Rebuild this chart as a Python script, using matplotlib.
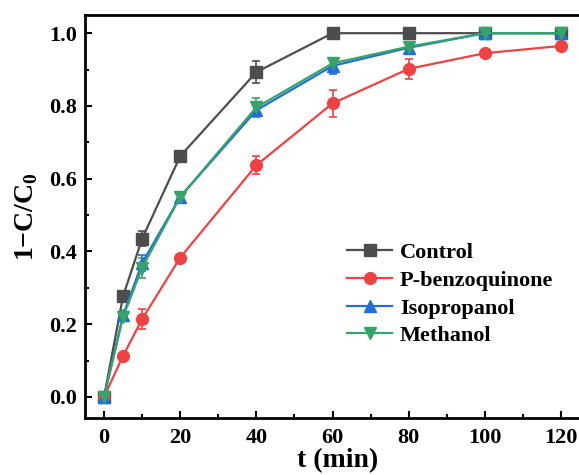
import matplotlib
matplotlib.use("Agg")
import matplotlib.pyplot as plt
from matplotlib.ticker import MultipleLocator

plt.rcParams['font.family'] = ['Liberation Serif', 'DejaVu Serif']
plt.rcParams['font.weight'] = 'bold'
plt.rcParams['mathtext.fontset'] = 'custom'
plt.rcParams['mathtext.rm'] = 'Liberation Serif:bold'
plt.rcParams['mathtext.bf'] = 'Liberation Serif:bold'

t = [0, 5, 10, 20, 40, 60, 80, 100, 120]

control = [0, 0.277, 0.435, 0.662, 0.893, 1.0, 1.0, 1.0, 1.0]
control_err = [0, 0.012, 0.02, 0.015, 0.03, 0, 0, 0, 0]

pbq = [0, 0.113, 0.214, 0.383, 0.637, 0.807, 0.902, 0.945, 0.965]
pbq_err = [0, 0.005, 0.027, 0.008, 0.025, 0.037, 0.027, 0.01, 0.006]

iso = [0, 0.225, 0.368, 0.55, 0.788, 0.91, 0.96, 1.0, 1.0]
iso_err = [0, 0.01, 0.022, 0.012, 0.015, 0.022, 0.01, 0.008, 0.008]

meth = [0, 0.22, 0.355, 0.55, 0.796, 0.917, 0.963, 1.0, 1.0]
meth_err = [0, 0.01, 0.028, 0.01, 0.027, 0.015, 0.01, 0.005, 0.005]

series = [
    ("Control", control, control_err, '#4d4d4d', 's'),
    ("P-benzoquinone", pbq, pbq_err, '#f04242', 'o'),
    ("Isopropanol", iso, iso_err, '#1f6fe0', '^'),
    ("Methanol", meth, meth_err, '#36a468', 'v'),
]

fig = plt.figure(figsize=(5.79, 4.75), dpi=100)
# right spine falls outside the picture, as in the original crop
ax = fig.add_axes([85 / 579, 1 - 418 / 475, 505 / 579, 403 / 475])

handles = []
for name, y, err, col, mk in series:
    eb = ax.errorbar(t, y, yerr=err, color=col, marker=mk, markersize=8.5,
                     linewidth=1.6, capsize=3, elinewidth=1.2, capthick=1.2,
                     label=name)
    handles.append(eb[0])  # line only, no error bar in legend

ax.set_xlim(-5, 127.6)
ax.set_ylim(-0.058, 1.05)
ax.xaxis.set_major_locator(MultipleLocator(20))
ax.xaxis.set_minor_locator(MultipleLocator(10))
ax.yaxis.set_major_locator(MultipleLocator(0.2))
ax.yaxis.set_minor_locator(MultipleLocator(0.1))
ax.yaxis.set_major_formatter(plt.FuncFormatter(lambda v, p: f"{v:.1f}"))

ax.tick_params(which='both', direction='in', width=1.5, labelsize=16)
ax.tick_params(which='major', length=5)
ax.tick_params(which='minor', length=3)
ax.tick_params(axis='x', which='major', pad=7)
ax.tick_params(axis='y', which='major', pad=6)
for s in ax.spines.values():
    s.set_linewidth(2)
ax.spines['right'].set_visible(False)

ax.set_xlabel("t (min)", fontsize=20, fontweight='bold', labelpad=0)
ax.set_ylabel(r"1$-$C/C$_\mathrm{0}$", fontsize=20, fontweight='bold', labelpad=6)

ax.legend(handles, [s[0] for s in series], loc='upper left',
          bbox_to_anchor=(0.502, 0.457), frameon=False,
          fontsize=16, handlelength=2.0, handletextpad=0.36, labelspacing=0.32,
          borderaxespad=0)

fig.savefig("out.png", dpi=100)
